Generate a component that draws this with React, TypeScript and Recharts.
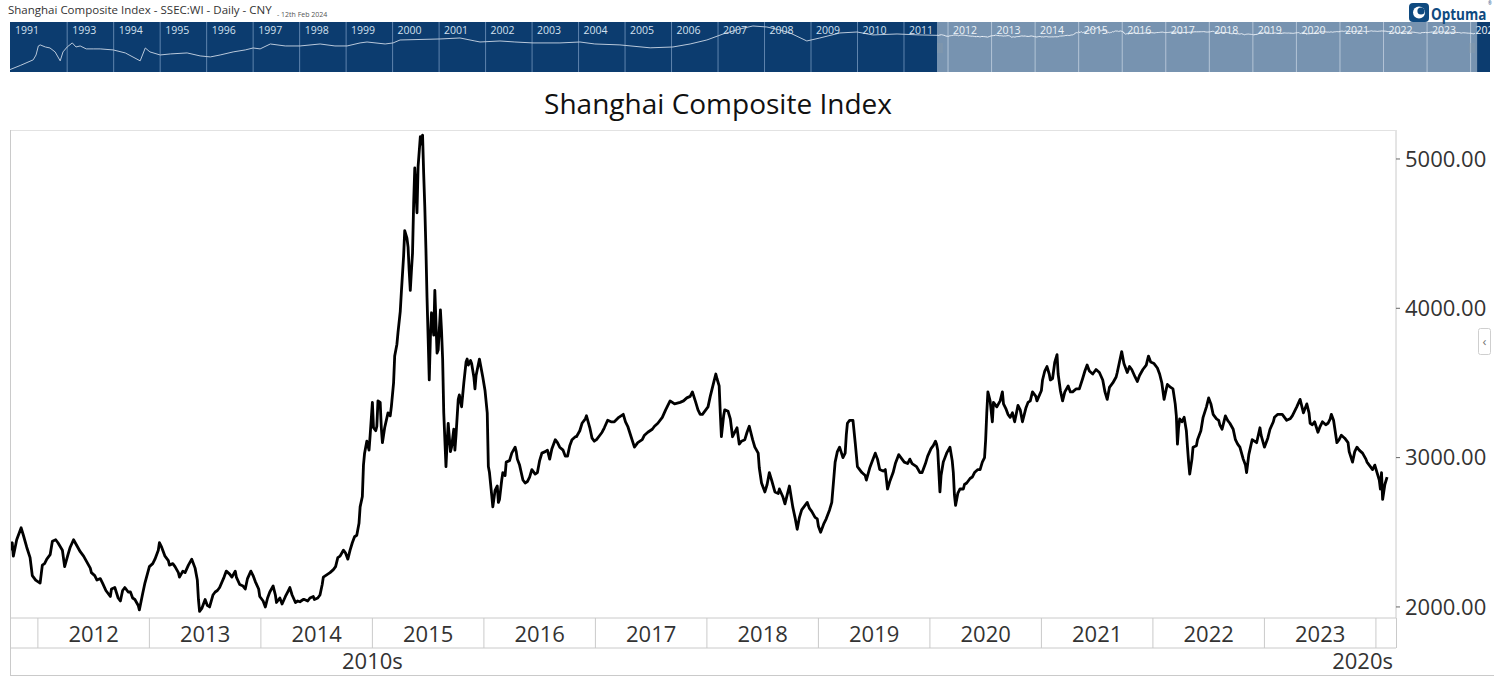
import React from "react";
import { LineChart, Line, XAxis, YAxis, ReferenceLine, ReferenceArea } from "recharts";

const FONT = "'Open Sans', 'Noto Sans', sans-serif";

// Daily closes: [fraction of year, close]
const closes2011: [number, number][] = [
  [0.75, 2380], [0.77, 2430], [0.78, 2340], [0.81, 2450], [0.84, 2510], [0.85, 2530],
  [0.87, 2480], [0.9, 2400], [0.93, 2330], [0.95, 2210], [0.98, 2180],
];
const closes2012: [number, number][] = [
  [0.0, 2170], [0.02, 2160], [0.04, 2280], [0.06, 2290], [0.08, 2320], [0.11, 2350],
  [0.13, 2440], [0.16, 2450], [0.18, 2430], [0.22, 2380], [0.24, 2270], [0.27, 2350],
  [0.29, 2400], [0.32, 2450], [0.35, 2410], [0.38, 2370], [0.41, 2340], [0.44, 2300],
  [0.47, 2260], [0.48, 2230], [0.51, 2210], [0.53, 2180], [0.56, 2190], [0.58, 2160],
  [0.61, 2110], [0.65, 2070], [0.66, 2120], [0.69, 2130], [0.72, 2060], [0.74, 2040],
  [0.76, 2110], [0.78, 2130], [0.81, 2100], [0.83, 2100], [0.85, 2060], [0.87, 2050],
  [0.9, 2010], [0.91, 1980], [0.94, 2090], [0.96, 2160],
];
const closes2013: [number, number][] = [
  [0.0, 2270], [0.03, 2290], [0.05, 2320], [0.08, 2380], [0.09, 2430], [0.11, 2400],
  [0.14, 2340], [0.17, 2310], [0.18, 2280], [0.21, 2290], [0.23, 2270], [0.26, 2230],
  [0.27, 2200], [0.3, 2240], [0.32, 2230], [0.35, 2280], [0.38, 2320], [0.41, 2260],
  [0.43, 2180], [0.44, 2050], [0.45, 1970], [0.47, 1990], [0.5, 2050], [0.52, 2010],
  [0.54, 2000], [0.57, 2080], [0.59, 2100], [0.61, 2110], [0.63, 2130], [0.67, 2200],
  [0.69, 2240], [0.72, 2220], [0.74, 2200], [0.77, 2240], [0.78, 2200], [0.81, 2150],
  [0.84, 2140], [0.86, 2120], [0.88, 2190], [0.91, 2240], [0.93, 2210], [0.95, 2170],
  [0.98, 2120], [0.99, 2070],
];
const closes2014: [number, number][] = [
  [0.02, 2040], [0.04, 2000], [0.06, 2060], [0.08, 2100], [0.11, 2140], [0.13, 2080],
  [0.14, 2030], [0.17, 2060], [0.19, 2020], [0.22, 2070], [0.24, 2100], [0.26, 2130],
  [0.28, 2080], [0.31, 2030], [0.33, 2040], [0.35, 2035], [0.38, 2050], [0.39, 2050],
  [0.42, 2040], [0.44, 2060], [0.47, 2070], [0.48, 2050], [0.51, 2060], [0.53, 2080],
  [0.55, 2150], [0.56, 2200], [0.58, 2210], [0.62, 2230], [0.65, 2250], [0.67, 2270],
  [0.69, 2330], [0.71, 2340], [0.74, 2380], [0.76, 2360], [0.78, 2320], [0.8, 2380],
  [0.82, 2430], [0.84, 2470], [0.86, 2480], [0.88, 2560], [0.89, 2670], [0.91, 2740],
  [0.92, 2950], [0.93, 3030], [0.95, 3110], [0.97, 3050], [0.98, 3150],
];
const closes2015: [number, number][] = [
  [0.0, 3370], [0.01, 3200], [0.03, 3180], [0.04, 3210], [0.05, 3380], [0.07, 3370],
  [0.08, 3200], [0.09, 3100], [0.11, 3200], [0.14, 3300], [0.16, 3280], [0.17, 3340],
  [0.19, 3500], [0.2, 3680], [0.22, 3760], [0.23, 3840], [0.25, 3980], [0.26, 4110],
  [0.28, 4350], [0.29, 4520], [0.31, 4470], [0.32, 4410], [0.33, 4250], [0.34, 4120],
  [0.35, 4250], [0.36, 4370], [0.37, 4700], [0.38, 4940], [0.4, 4640], [0.41, 4950],
  [0.43, 5150], [0.44, 5100], [0.45, 5160], [0.46, 4900], [0.47, 4680], [0.48, 4400],
  [0.49, 4070], [0.5, 3800], [0.51, 3520], [0.52, 3800], [0.53, 3970], [0.55, 3820],
  [0.56, 4120], [0.58, 3700], [0.59, 3720], [0.61, 3990], [0.62, 3850], [0.63, 3660],
  [0.64, 3300], [0.66, 2940], [0.67, 3100], [0.68, 3230], [0.7, 3040], [0.71, 3070],
  [0.73, 3190], [0.74, 3050], [0.75, 3150], [0.77, 3390], [0.78, 3420], [0.8, 3340],
  [0.82, 3500], [0.84, 3640], [0.85, 3660], [0.86, 3620], [0.88, 3650], [0.89, 3630],
  [0.91, 3540], [0.92, 3460], [0.93, 3550], [0.96, 3660], [0.97, 3620], [0.99, 3540],
];
const closes2016: [number, number][] = [
  [0.01, 3450], [0.03, 3300], [0.04, 2940], [0.05, 2900], [0.07, 2750], [0.08, 2670],
  [0.1, 2780], [0.12, 2810], [0.13, 2700], [0.14, 2720], [0.16, 2850], [0.17, 2900],
  [0.19, 2880], [0.2, 2970], [0.23, 2980], [0.25, 3030], [0.28, 3070], [0.29, 3040],
  [0.3, 2990], [0.32, 2950], [0.35, 2850], [0.37, 2830], [0.39, 2840], [0.41, 2870],
  [0.43, 2920], [0.46, 2890], [0.48, 2900], [0.5, 2980], [0.52, 3030], [0.55, 3040],
  [0.57, 3050], [0.59, 2990], [0.61, 3060], [0.64, 3120], [0.66, 3100], [0.68, 3070],
  [0.71, 3050], [0.73, 3010], [0.75, 3010], [0.77, 3080], [0.79, 3120], [0.82, 3140],
  [0.83, 3140], [0.86, 3180], [0.88, 3230], [0.91, 3260], [0.92, 3280], [0.95, 3200],
  [0.97, 3130], [0.99, 3110],
];
const closes2017: [number, number][] = [
  [0.01, 3120], [0.04, 3150], [0.06, 3170], [0.08, 3200], [0.11, 3250], [0.14, 3240],
  [0.17, 3240], [0.21, 3270], [0.25, 3290], [0.27, 3240], [0.29, 3210], [0.32, 3140],
  [0.35, 3070], [0.38, 3100], [0.42, 3120], [0.44, 3150], [0.47, 3170], [0.51, 3190],
  [0.53, 3210], [0.56, 3230], [0.6, 3270], [0.63, 3320], [0.67, 3380], [0.71, 3360],
  [0.76, 3370], [0.79, 3380], [0.82, 3400], [0.85, 3410], [0.87, 3440], [0.9, 3370],
  [0.92, 3320], [0.94, 3290], [0.96, 3290], [0.99, 3320],
];
const closes2018: [number, number][] = [
  [0.01, 3340], [0.03, 3410], [0.04, 3440], [0.06, 3500], [0.08, 3560], [0.09, 3530],
  [0.11, 3480], [0.12, 3300], [0.13, 3140], [0.15, 3280], [0.16, 3320], [0.19, 3310],
  [0.21, 3260], [0.23, 3140], [0.25, 3170], [0.27, 3200], [0.29, 3090], [0.31, 3110],
  [0.34, 3120], [0.36, 3170], [0.38, 3210], [0.41, 3120], [0.43, 3070], [0.46, 3030],
  [0.47, 2930], [0.49, 2830], [0.52, 2770], [0.54, 2820], [0.56, 2900], [0.58, 2850],
  [0.61, 2770], [0.64, 2760], [0.65, 2790], [0.68, 2740], [0.7, 2690], [0.72, 2750],
  [0.74, 2810], [0.77, 2670], [0.79, 2600], [0.81, 2520], [0.83, 2600], [0.85, 2650],
  [0.88, 2680], [0.9, 2700], [0.92, 2660], [0.94, 2640], [0.97, 2600], [0.99, 2590],
];
const closes2019: [number, number][] = [
  [0.0, 2540], [0.02, 2500], [0.05, 2560], [0.07, 2590], [0.1, 2650], [0.12, 2700],
  [0.14, 2880], [0.15, 2970], [0.17, 3040], [0.19, 3070], [0.22, 3000], [0.24, 3030],
  [0.25, 3150], [0.26, 3230], [0.28, 3250], [0.31, 3250], [0.33, 3100], [0.35, 2940],
  [0.37, 2920], [0.39, 2900], [0.42, 2880], [0.43, 2850], [0.46, 2930], [0.48, 2970],
  [0.51, 3030], [0.53, 2990], [0.55, 2920], [0.58, 2910], [0.6, 2920], [0.62, 2790],
  [0.64, 2840], [0.67, 2900], [0.69, 2960], [0.72, 3020], [0.75, 2990], [0.77, 2970],
  [0.8, 2960], [0.82, 2990], [0.84, 2960], [0.88, 2940], [0.91, 2900], [0.93, 2900],
  [0.96, 2960], [0.98, 3010],
];
const closes2020: [number, number][] = [
  [0.01, 3060], [0.03, 3080], [0.05, 3110], [0.06, 3090], [0.07, 3050], [0.09, 2770],
  [0.1, 2880], [0.12, 2970], [0.13, 2990], [0.15, 3030], [0.18, 3070], [0.2, 2980],
  [0.21, 2900], [0.22, 2750], [0.23, 2680], [0.25, 2760], [0.27, 2790], [0.3, 2790],
  [0.31, 2820], [0.33, 2830], [0.36, 2860], [0.38, 2870], [0.4, 2900], [0.43, 2920],
  [0.45, 2920], [0.47, 2970], [0.49, 3000], [0.5, 3120], [0.51, 3300], [0.52, 3440],
  [0.54, 3380], [0.56, 3240], [0.57, 3370], [0.6, 3340], [0.63, 3380], [0.65, 3440],
  [0.66, 3360], [0.68, 3330], [0.7, 3290], [0.72, 3270], [0.74, 3300], [0.76, 3240],
  [0.79, 3350], [0.81, 3320], [0.83, 3240], [0.86, 3330], [0.88, 3370], [0.9, 3380],
  [0.92, 3440], [0.95, 3410], [0.96, 3380],
];
const closes2021: [number, number][] = [
  [0.0, 3450], [0.01, 3520], [0.03, 3580], [0.05, 3610], [0.07, 3560], [0.08, 3520],
  [0.1, 3530], [0.12, 3640], [0.14, 3690], [0.15, 3560], [0.17, 3450], [0.19, 3380],
  [0.21, 3440], [0.24, 3480], [0.26, 3440], [0.28, 3440], [0.31, 3460], [0.34, 3460],
  [0.37, 3530], [0.39, 3580], [0.41, 3620], [0.43, 3580], [0.46, 3560], [0.49, 3590],
  [0.52, 3570], [0.55, 3520], [0.57, 3440], [0.59, 3390], [0.61, 3470], [0.64, 3500],
  [0.67, 3540], [0.68, 3570], [0.7, 3640], [0.72, 3710], [0.74, 3630], [0.77, 3570],
  [0.79, 3610], [0.81, 3590], [0.84, 3540], [0.86, 3510], [0.88, 3550], [0.91, 3590],
  [0.94, 3620], [0.96, 3680], [0.98, 3640],
];
const closes2022: [number, number][] = [
  [0.01, 3630], [0.04, 3600], [0.06, 3560], [0.08, 3500], [0.1, 3390], [0.12, 3460],
  [0.13, 3490], [0.16, 3470], [0.18, 3460], [0.2, 3360], [0.21, 3280], [0.22, 3090],
  [0.23, 3200], [0.24, 3260], [0.26, 3240], [0.28, 3270], [0.3, 3180], [0.31, 3070],
  [0.32, 2970], [0.33, 2890], [0.35, 2990], [0.36, 3070], [0.39, 3080], [0.4, 3120],
  [0.43, 3180], [0.45, 3270], [0.48, 3340], [0.5, 3400], [0.52, 3360], [0.54, 3290],
  [0.57, 3260], [0.59, 3250], [0.6, 3220], [0.62, 3190], [0.65, 3280], [0.67, 3250],
  [0.69, 3230], [0.72, 3190], [0.74, 3120], [0.76, 3090], [0.78, 3070], [0.81, 2990],
  [0.83, 2950], [0.84, 2900], [0.86, 3020], [0.89, 3120], [0.91, 3110], [0.93, 3100],
  [0.96, 3200], [0.97, 3150],
];
const closes2023: [number, number][] = [
  [0.0, 3070], [0.03, 3130], [0.05, 3190], [0.08, 3240], [0.09, 3270], [0.12, 3290],
  [0.16, 3290], [0.18, 3270], [0.2, 3250], [0.23, 3260], [0.25, 3280], [0.27, 3310],
  [0.29, 3340], [0.32, 3390], [0.34, 3330], [0.35, 3300], [0.38, 3360], [0.4, 3300],
  [0.41, 3230], [0.43, 3220], [0.45, 3240], [0.48, 3170], [0.5, 3210], [0.52, 3240],
  [0.55, 3220], [0.57, 3230], [0.59, 3260], [0.6, 3290], [0.62, 3250], [0.65, 3100],
  [0.67, 3120], [0.69, 3150], [0.72, 3130], [0.75, 3100], [0.76, 3040], [0.79, 2970],
  [0.81, 3040], [0.83, 3070], [0.85, 3050], [0.88, 3030], [0.91, 2990], [0.92, 2970],
  [0.95, 2940], [0.97, 2920], [0.99, 2950],
];
const closes2024: [number, number][] = [
  [0.01, 2900], [0.03, 2850], [0.04, 2790], [0.05, 2900], [0.06, 2720], [0.08, 2820], [0.1, 2870],
];

// long history for the navigator strip: [decimal year, close]
const navHistory: [number, number][] = [
  [1991.77, 80], [1991.99, 120], [1992.27, 210], [1992.33, 340], [1992.38, 830], [1992.42, 920],
  [1992.53, 750], [1992.63, 680], [1992.74, 460], [1992.85, 190], [1992.91, 460], [1993.0, 750],
  [1993.11, 1120], [1993.19, 750], [1993.28, 830], [1993.41, 620], [1993.56, 620], [1993.71, 620],
  [1993.99, 560], [1994.25, 416], [1994.57, 190], [1994.68, 680], [1994.78, 460], [1995.0, 340],
  [1995.22, 377], [1995.58, 416], [1995.86, 310], [1996.08, 280], [1996.29, 340], [1996.57, 460],
  [1996.83, 560], [1997.0, 680], [1997.15, 620], [1997.37, 1010], [1997.69, 830], [1998.01, 830],
  [1998.44, 1010], [1998.76, 830], [1999.02, 830], [1999.3, 1120], [1999.45, 1230], [1999.84, 1010],
  [2000.01, 1120], [2000.16, 1500], [2001.02, 1660], [2001.45, 1830], [2001.77, 1360], [2001.88, 1230],
  [2002.31, 1360], [2002.63, 1230], [2003.02, 1120], [2003.6, 1120], [2004.03, 1230], [2004.35, 1010],
  [2004.89, 920], [2005.54, 690], [2006.03, 750], [2006.4, 1010], [2006.76, 1500], [2007.11, 2720],
  [2007.47, 4460], [2007.75, 6000], [2008.05, 5430], [2008.33, 4040], [2008.55, 3000], [2008.91, 1360],
  [2009.19, 1830], [2009.62, 3000], [2009.99, 3310], [2010.33, 2470], [2010.85, 2720], [2011.34, 2470],
  [2011.71, 2380],
];

const closesByYear: [number, [number, number][]][] = [
  [2011, closes2011], [2012, closes2012], [2013, closes2013], [2014, closes2014],
  [2015, closes2015], [2016, closes2016], [2017, closes2017], [2018, closes2018],
  [2019, closes2019], [2020, closes2020], [2021, closes2021], [2022, closes2022],
  [2023, closes2023], [2024, closes2024],
];

const yearTicks = [2012, 2013, 2014, 2015, 2016, 2017, 2018, 2019, 2020, 2021, 2022, 2023, 2024];
const lastFullYear = 2023;
const decadeLabels: [number, string][] = [[2015, "2010s"], [2024.18, "2020s"]];
const priceTicks = [2000, 3000, 4000, 5000];
const navOldYears = [1993, 1994, 1995, 1996, 1997, 1998, 1999, 2000, 2001, 2002, 2003, 2004, 2005, 2006, 2007, 2008, 2009, 2010, 2011];
const navNewYears = [2012, 2013, 2014, 2015, 2016, 2017, 2018, 2019, 2020, 2021, 2022, 2023, 2024];

const dailyData = closesByYear.flatMap(([yr, pts]) =>
  pts.map(([f, c]) => ({ t: +(yr + f).toFixed(3), close: c }))
);
const navOldData = navHistory.map(([t, c]) => ({ t, close: c }));

const X_MIN = 2011.75;
const X_MAX = 2024.18;
const PLOT_LEFT = 10;
const AXIS_W = 98;
const PLOT_W = 1494 - PLOT_LEFT - AXIS_W;
const HALF_YEAR = PLOT_W / (X_MAX - X_MIN) / 2;

const GRID = "#cacaca";
const INK = "#333";
const NAV_DARK = "#0c3c6f";
const NAV_LIGHT = "#7793b0";

function YearTick(props: any) {
  const { x, y, payload } = props;
  const yr = payload.value;
  return (
    <g>
      <line x1={x} x2={x} y1={y} y2={y + 30} stroke={GRID} />
      {yr <= lastFullYear && (
        <text x={x + HALF_YEAR} y={y + 24} textAnchor="middle" fill={INK} fontSize={22} fontFamily={FONT}>
          {yr}
        </text>
      )}
    </g>
  );
}

function DecadeTick(props: any) {
  const { x, y, payload } = props;
  const found = decadeLabels.find(([v]) => v === payload.value);
  if (!found) return null;
  const atEnd = payload.value >= X_MAX;
  return (
    <text
      x={atEnd ? x - 3 : x}
      y={y + 21}
      textAnchor={atEnd ? "end" : "middle"}
      fill={INK}
      fontSize={22}
      fontFamily={FONT}
    >
      {found[1]}
    </text>
  );
}

function navLabel(year: number, color: string) {
  return { value: String(year), position: "insideTopLeft" as const, offset: 5, fill: color, fontSize: 10.5, fontFamily: FONT };
}

export default function App() {
  return (
    <div style={{ position: "absolute", left: 0, top: 0, width: 1494, height: 683, background: "#fff", overflow: "hidden" }}>
      <div style={{ position: "absolute", left: 0, top: 0 }}>
        <LineChart width={1494} height={683} data={dailyData} margin={{ top: 130, right: 0, bottom: 8, left: PLOT_LEFT }}>
          <XAxis
            xAxisId="a_years"
            dataKey="t"
            type="number"
            domain={[X_MIN, X_MAX]}
            allowDataOverflow
            ticks={yearTicks}
            interval={0}
            height={30}
            tickSize={0}
            tickMargin={0}
            tickLine={false}
            axisLine={{ stroke: GRID }}
            tick={(p: any) => <YearTick {...p} />}
          />
          <XAxis
            xAxisId="b_decades"
            dataKey="t"
            type="number"
            domain={[X_MIN, X_MAX]}
            allowDataOverflow
            ticks={decadeLabels.map(([v]) => v)}
            interval={0}
            height={27}
            tickSize={0}
            tickMargin={0}
            tickLine={false}
            axisLine={{ stroke: GRID }}
            tick={(p: any) => <DecadeTick {...p} />}
          />
          <YAxis
            orientation="right"
            width={AXIS_W}
            type="number"
            domain={[1926, 5194]}
            allowDataOverflow
            ticks={priceTicks}
            interval={0}
            tickFormatter={(v: number) => v.toFixed(2)}
            tick={{ fill: INK, fontSize: 22, fontFamily: FONT }}
            tickSize={4}
            tickMargin={5}
            tickLine={{ stroke: "#666" }}
            axisLine={{ stroke: GRID }}
          />
          <Line
            xAxisId="a_years"
            type="linear"
            dataKey="close"
            stroke="#000"
            strokeWidth={2.8}
            strokeLinejoin="round"
            dot={false}
            activeDot={false}
            isAnimationActive={false}
          />
        </LineChart>
      </div>

      {/* navigator: history before the selected window */}
      <div style={{ position: "absolute", left: 10, top: 22, width: 927, height: 50, background: NAV_DARK, overflow: "hidden" }}>
        <LineChart width={927} height={50} data={navOldData} margin={{ top: 0, right: 0, bottom: 0, left: 0 }}>
          <XAxis dataKey="t" type="number" domain={[1991.77, 2011.71]} allowDataOverflow hide />
          <YAxis type="number" scale="log" domain={[63, 8900]} allowDataOverflow hide />
          <ReferenceLine x={1991.77} stroke="none" label={navLabel(1991, "#d3e0ee")} />
          {navOldYears.map((yr) => (
            <ReferenceLine key={yr} x={yr} stroke="#5f84ad" label={navLabel(yr, "#d3e0ee")} />
          ))}
          <Line type="linear" dataKey="close" stroke="#b9c8da" strokeWidth={1} dot={false} activeDot={false} isAnimationActive={false} />
        </LineChart>
      </div>

      {/* navigator: selected window */}
      <div style={{ position: "absolute", left: 937, top: 22, width: 553, height: 50, background: NAV_DARK, overflow: "hidden" }}>
        <LineChart width={553} height={50} data={dailyData} margin={{ top: 0, right: 0, bottom: 0, left: 0 }}>
          <XAxis dataKey="t" type="number" domain={[2011.747, 2024.445]} allowDataOverflow hide />
          <YAxis type="number" scale="log" domain={[63, 8900]} allowDataOverflow hide />
          <ReferenceArea x1={2011.747} x2={2024.15} fill={NAV_LIGHT} fillOpacity={1} stroke="none" />
          {navNewYears.map((yr) => (
            <ReferenceLine key={yr} x={yr} stroke="#b3c4d6" label={navLabel(yr, "#eef3f8")} />
          ))}
          <Line type="linear" dataKey="close" stroke="#e9eff6" strokeWidth={1} dot={false} activeDot={false} isAnimationActive={false} />
        </LineChart>
      </div>

      <svg width={1494} height={683} style={{ position: "absolute", left: 0, top: 0, pointerEvents: "none" }}>
        <text x={8} y={14} fontSize={11.5} fill={INK} fontFamily={FONT}>
          Shanghai Composite Index - SSEC:WI - Daily - CNY
        </text>
        <text x={277} y={17} fontSize={7} fill="#555" fontFamily={FONT}>
          - 12th Feb 2024
        </text>

        {/* logo */}
        <rect x={1409} y={3} width={20} height={19} rx={4} fill="#0f4a80" />
        <circle cx={1419} cy={12.5} r={6} fill="#fff" />
        <circle cx={1421} cy={11} r={3.6} fill="#0f4a80" />
        <text transform="translate(1431,20) scale(1,1.15)" fontSize={13.5} fontWeight={700} fill="#0f4a80" fontFamily={FONT}>
          Optuma
        </text>
        <text x={1488} y={5} fontSize={4.5} fill="#0f4a80" fontFamily={FONT}>®</text>

        {/* selection handles */}
        {[938, 940, 942, 1470, 1472, 1474].map((hx) => (
          <line key={hx} x1={hx} x2={hx} y1={43} y2={53} stroke="#8899aa" strokeWidth={0.8} />
        ))}

        <text x={718} y={114} textAnchor="middle" fontSize={28} fill="#111" fontFamily={FONT}>
          Shanghai Composite Index
        </text>

        {/* frame */}
        <line x1={10} x2={1396} y1={130.5} y2={130.5} stroke="#e2e2e2" />
        <line x1={10.5} x2={10.5} y1={130} y2={676} stroke={GRID} />
        <line x1={1396.5} x2={1396.5} y1={618} y2={648} stroke={GRID} />
        <line x1={10} x2={1494} y1={675.5} y2={675.5} stroke={GRID} />

        {/* side toggle */}
        <rect x={1478.5} y={328.5} width={12} height={26} rx={2} fill="#fff" stroke="#cfcfcf" />
        <text x={1484.5} y={346} textAnchor="middle" fontSize={13} fill="#777" fontFamily={FONT}>‹</text>
      </svg>
    </div>
  );
}
